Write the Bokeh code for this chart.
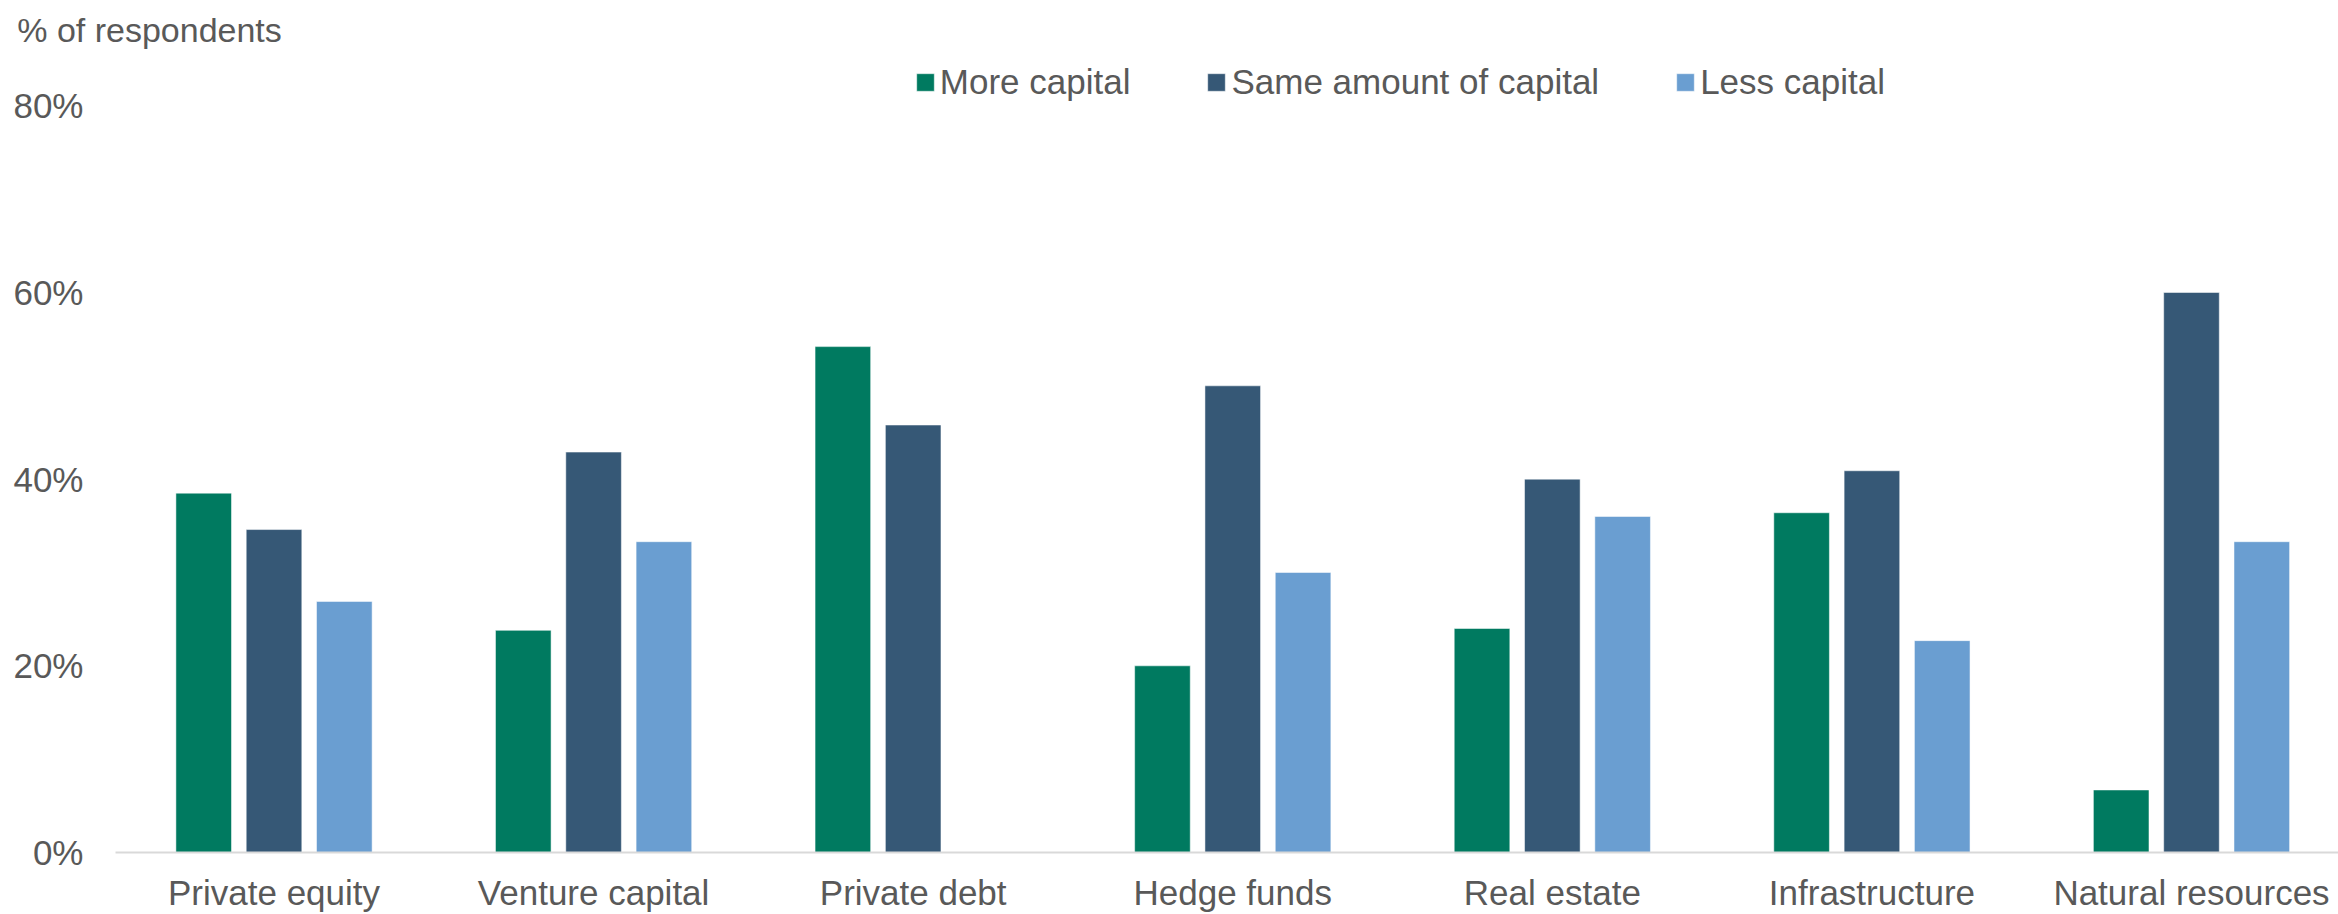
import math
from bokeh.plotting import figure
from bokeh.models import ColumnDataSource, Range1d, FixedTicker, Legend, LegendItem, Title
from bokeh.transform import dodge
from bokeh.embed import file_html
from bokeh.resources import INLINE

categories = ["Private equity", "Venture capital", "Private debt", "Hedge funds",
              "Real estate", "Infrastructure", "Natural resources"]
more_capital = [38.5, 23.8, 54.2, 20.0, 24.0, 36.4, 6.7]
same_capital = [34.6, 42.9, 45.8, 50.0, 40.0, 40.9, 60.0]
less_capital = [26.9, 33.3, float("nan"), 30.0, 36.0, 22.7, 33.3]
series_names = ["More capital", "Same amount of capital", "Less capital"]
colors = ["#007A60", "#365876", "#6A9ED1"]
y_ticks = [0, 20, 40, 60, 80]

FONT = "Liberation Sans"
TXT = "#595959"
FS = "35px"

src = ColumnDataSource(dict(x=list(range(len(categories))),
                            more=more_capital, same=same_capital, less=less_capital))

p = figure(width=2338, height=914, output_backend="svg", toolbar_location=None,
           x_range=Range1d(-0.496, 6.46), y_range=Range1d(0, 85.39),
           min_border_left=115, min_border_right=0, min_border_top=55, min_border_bottom=0)
p.title = Title(text="% of respondents", align="left", offset=-98.3, standoff=14,
                text_font=FONT, text_font_size="34px", text_font_style="normal", text_color=TXT)
p.outline_line_color = None
p.xgrid.grid_line_color = None
p.ygrid.grid_line_color = None

renderers = []
for key, off, col in zip(["more", "same", "less"], [-0.22, 0.0, 0.22], colors):
    r = p.vbar(x=dodge("x", off), top=key, width=0.174, bottom=0, source=src,
               fill_color=col, line_color="white", line_width=1, line_alpha=0.5)
    renderers.append(r)

# x axis
p.xaxis.ticker = FixedTicker(ticks=list(range(len(categories))))
p.xaxis.major_label_overrides = {i: c for i, c in enumerate(categories)}
p.xaxis.major_label_text_font = FONT
p.xaxis.major_label_text_font_size = FS
p.xaxis.major_label_text_color = TXT
p.xaxis.major_label_standoff = 14
p.xaxis.axis_line_color = "#D9D9D9"
p.xaxis.axis_line_width = 2
p.xaxis.major_tick_line_color = None
p.xaxis.minor_tick_line_color = None

# y axis
p.yaxis.ticker = FixedTicker(ticks=y_ticks)
p.yaxis.major_label_overrides = {t: f"{t}%" for t in y_ticks}
p.yaxis.major_label_text_font = FONT
p.yaxis.major_label_text_font_size = FS
p.yaxis.major_label_text_color = TXT
p.yaxis.major_label_standoff = 26
p.yaxis.axis_line_color = None
p.yaxis.major_tick_line_color = None
p.yaxis.minor_tick_line_color = None

legend = Legend(items=[LegendItem(label=n, renderers=[r]) for n, r in zip(series_names, renderers)],
                orientation="horizontal", location=(798.8, 750),
                padding=0, margin=0, spacing=75, label_standoff=4,
                glyph_width=22, glyph_height=22,
                label_text_font=FONT, label_text_font_size=FS, label_text_color=TXT,
                border_line_alpha=0, background_fill_alpha=0)
p.add_layout(legend, "center")

open("out.html", "w").write(file_html(p, INLINE))
